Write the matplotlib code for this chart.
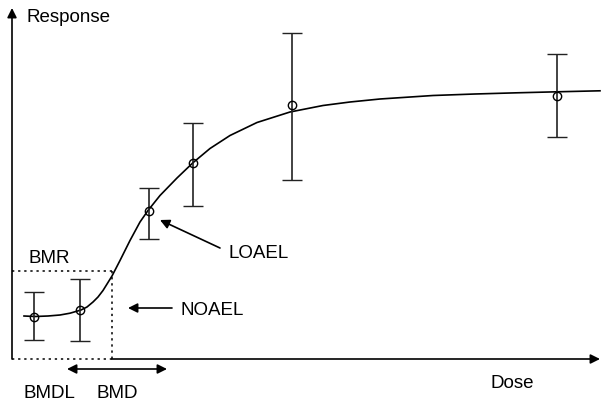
import matplotlib.pyplot as plt

# datos (dosis / respuesta en unidades arbitrarias)
dose = [22, 68, 137, 181, 280, 545]
response = [42, 49, 148, 196, 254, 263]
err_upper = [67, 80, 171, 236, 326, 305]
err_lower = [19, 18, 120, 153, 179, 222]

# curva ajustada
curve_dose = [12, 23, 36, 48, 58, 69, 75, 81, 86, 91, 100, 108, 118, 128, 136,
              148, 165, 181, 198, 218, 245, 278, 311, 338, 368, 421, 463, 505, 545, 588]
curve_resp = [43, 42.5, 43, 44, 45.8, 49, 52, 57, 62, 68.5, 83, 98.5, 118.5, 137, 148.5,
              163.5, 181, 196.3, 210.5, 223.5, 236.5, 247, 253.5, 257, 260, 263.5,
              265, 266.2, 267.2, 268.2]

bmr = 88
bmd = 100
bmdl_range = [55, 155]

plt.rcParams['font.family'] = ['Liberation Sans', 'DejaVu Sans']
FS = 13.5

fig = plt.figure(figsize=(6.01, 4.03), dpi=100)
ax = fig.add_axes([0, 0, 1, 1])
ax.set_xlim(-12, 589)
ax.set_ylim(-44, 359)
ax.axis('off')

arrow = dict(arrowstyle='-|>', color='black', lw=1.2,
             mutation_scale=14, shrinkA=0, shrinkB=0)

# ejes con flechas
ax.annotate('', xy=(0, 351), xytext=(0, 0), arrowprops=arrow)
ax.annotate('', xy=(588, 0), xytext=(bmd, 0), arrowprops=arrow)

# caja BMR punteada
dots = (0, (1.5, 2.5))
ax.plot([0, bmd], [bmr, bmr], color='black', lw=1.1, linestyle=dots)
ax.plot([bmd, bmd], [bmr, 0], color='black', lw=1.1, linestyle=dots)
ax.plot([0, bmd], [0, 0], color='black', lw=1.1, linestyle=dots)

# curva
ax.plot(curve_dose, curve_resp, color='black', lw=1.2)

# puntos con barras de error
yerr = [[r - lo for r, lo in zip(response, err_lower)],
        [up - r for r, up in zip(response, err_upper)]]
ax.errorbar(dose, response, yerr=yerr, fmt='o', color='#222222', ecolor='#222222',
            mfc='none', mec='black', ms=6, mew=1.0, elinewidth=1.2, capsize=7.5, capthick=1.2)

# flechas NOAEL / LOAEL / BMD
ax.annotate('', xy=(116, 51), xytext=(160, 51), arrowprops=arrow)
ax.annotate('', xy=(148, 139), xytext=(208, 111), arrowprops=arrow)
ax.annotate('', xy=(bmdl_range[0], -10), xytext=(bmdl_range[1], -10),
            arrowprops=dict(arrow, arrowstyle='<|-|>'))

# textos
ax.text(15, 337, 'Response', fontsize=FS, ha='left', va='baseline')
ax.text(500, -29, 'Dose', fontsize=FS, ha='center', va='baseline')
ax.text(16, 96, 'BMR', fontsize=FS, ha='left', va='baseline')
ax.text(168, 44, 'NOAEL', fontsize=FS, ha='left', va='baseline')
ax.text(216, 101, 'LOAEL', fontsize=FS, ha='left', va='baseline')
ax.text(37, -39, 'BMDL', fontsize=FS, ha='center', va='baseline')
ax.text(105, -39, 'BMD', fontsize=FS, ha='center', va='baseline')

fig.savefig('out.png', dpi=100)
